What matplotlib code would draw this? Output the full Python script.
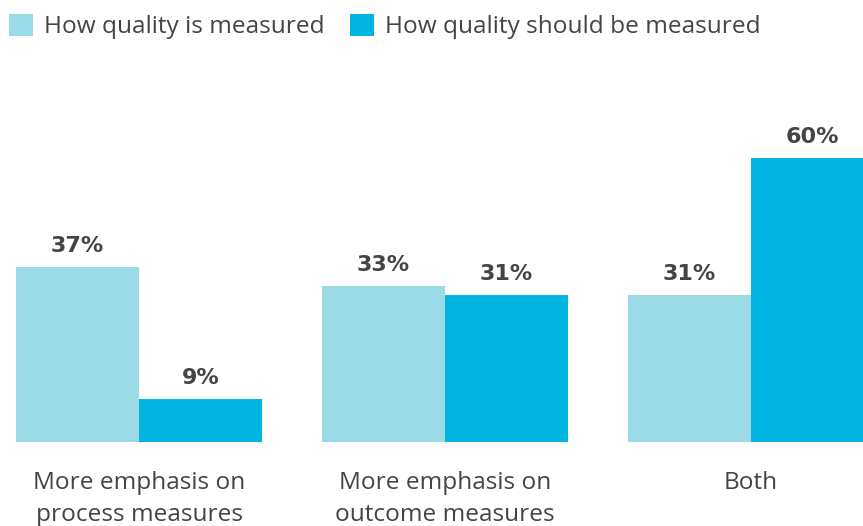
import numpy as np
import matplotlib.pyplot as plt

categories = ['More emphasis on\nprocess measures',
              'More emphasis on\noutcome measures',
              'Both']
series_names = ['How quality is measured', 'How quality should be measured']
measured = [37, 33, 31]
should_be = [9, 31, 60]

LIGHT = '#9bdbe7'
DARK = '#00b5e2'
TEXT = '#444444'

plt.rcParams['font.family'] = ['Open Sans', 'DejaVu Sans']

W, H = 863, 526
fig = plt.figure(figsize=(W / 100, H / 100), dpi=100)

# axes span from the bar baseline up towards the legend, full width
bottom_px, top_px = 442, 100
ax = fig.add_axes([0, 1 - bottom_px / H, 1, (bottom_px - top_px) / H])

x = np.arange(len(categories))
width = 0.402
b1 = ax.bar(x - width / 2, measured, width, color=LIGHT, label=series_names[0])
b2 = ax.bar(x + width / 2, should_be, width, color=DARK, label=series_names[1])

for bars, vals in ((b1, measured), (b2, should_be)):
    for bar, v in zip(bars, vals):
        ax.annotate('%d%%' % v, (bar.get_x() + bar.get_width() / 2, v),
                    xytext=(0, 11), textcoords='offset points',
                    ha='center', va='baseline', fontsize=16,
                    fontweight='bold', color=TEXT, family='DejaVu Sans')

ax.set_xlim(-139 / 306, (W - 139) / 306)
ax.set_ylim(0, (bottom_px - top_px) / 4.73)
ax.set_xticks(x)
ax.set_xticklabels(categories, fontsize=17.6, color=TEXT, linespacing=1.45,
                   va='top')
ax.tick_params(axis='x', length=0, pad=21)
ax.set_yticks([])
for s in ax.spines.values():
    s.set_visible(False)

fig.legend(handles=[b1, b2], loc='upper left', bbox_to_anchor=(0.0, 1 - 5 / H),
           ncol=2, frameon=False, fontsize=17.6, labelcolor=TEXT,
           handlelength=1.0, handleheight=1.0, handletextpad=0.45,
           columnspacing=1.0, borderaxespad=0, borderpad=0.37)

fig.savefig('out.png', dpi=100)
